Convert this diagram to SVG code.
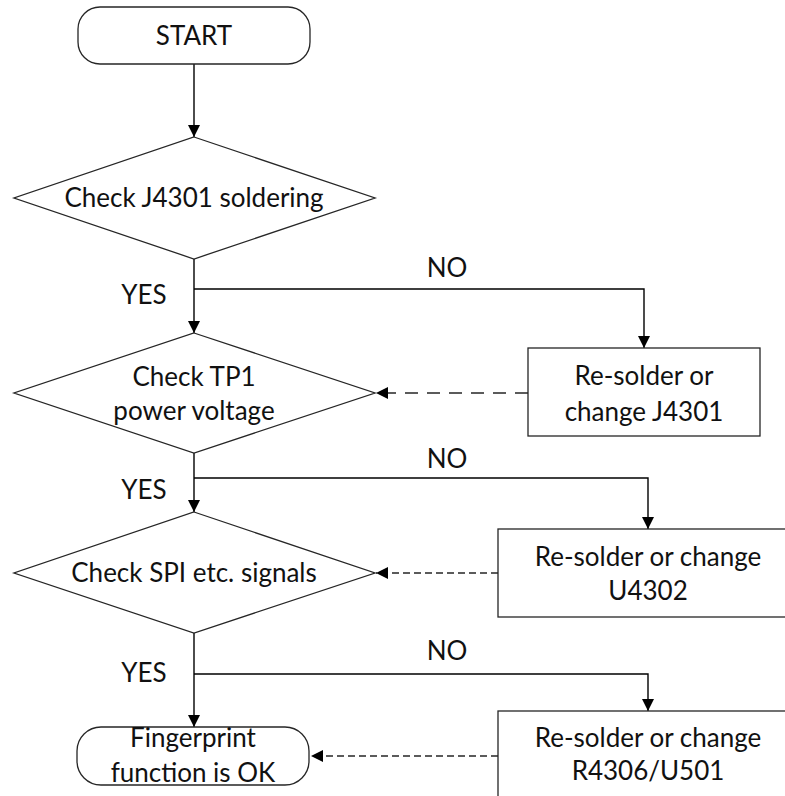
<svg xmlns="http://www.w3.org/2000/svg" width="785" height="796" viewBox="0 0 785 796">
  <style>
    .shape { fill: #ffffff; stroke: #262626; stroke-width: 1.3; }
    .wire { fill: none; stroke: #000000; stroke-width: 1.4; }
    .dash-long { fill: none; stroke: #262626; stroke-width: 1.4; stroke-dasharray: 13 9; }
    .dash-short { fill: none; stroke: #262626; stroke-width: 1.4; stroke-dasharray: 7 4; }
    text { font-family: Lato, "Liberation Sans", sans-serif; font-size: 26px; fill: #111111; text-anchor: middle; }
  </style>
  <defs>
    <marker id="arrow" viewBox="0 0 12 12" refX="12" refY="6" markerWidth="12" markerHeight="12" markerUnits="userSpaceOnUse" orient="auto">
      <path d="M0,0 L12,6 L0,12 Z" fill="#000000"/>
    </marker>
  </defs>

  <g id="connectors">
    <path class="wire" d="M194,64 V137" marker-end="url(#arrow)"/>
    <path class="wire" d="M194,259 V333" marker-end="url(#arrow)"/>
    <path class="wire" d="M194,289 H644 V348" marker-end="url(#arrow)"/>
    <path class="dash-long" d="M528,393 H376" marker-end="url(#arrow)"/>
    <path class="wire" d="M194,453 V512" marker-end="url(#arrow)"/>
    <path class="wire" d="M194,478 H648 V529" marker-end="url(#arrow)"/>
    <path class="dash-short" d="M498,573 H376" marker-end="url(#arrow)"/>
    <path class="wire" d="M194,633 V727" marker-end="url(#arrow)"/>
    <path class="wire" d="M194,674 H648 V711" marker-end="url(#arrow)"/>
    <path class="dash-short" d="M498,756 H311" marker-end="url(#arrow)"/>
    <text x="144" y="304">YES</text>
    <text x="447" y="277">NO</text>
    <text x="144" y="499">YES</text>
    <text x="447" y="468">NO</text>
    <text x="144" y="682">YES</text>
    <text x="447" y="660">NO</text>
  </g>

  <g id="start">
    <rect class="shape" x="78" y="7" width="232" height="57" rx="22" ry="22"/>
    <text x="194" y="45">START</text>
  </g>

  <g id="check-j4301">
    <polygon class="shape" points="194,137 375,198 194,259 14,198"/>
    <text x="194" y="207">Check J4301 soldering</text>
  </g>

  <g id="fix-j4301">
    <rect class="shape" x="528" y="348" width="232" height="88"/>
    <text x="644" y="385">Re-solder or</text>
    <text x="644" y="421">change J4301</text>
  </g>

  <g id="check-tp1">
    <polygon class="shape" points="194,333 375,393 194,453 14,393"/>
    <text x="194" y="386">Check TP1</text>
    <text x="194" y="420">power voltage</text>
  </g>

  <g id="fix-u4302">
    <rect class="shape" x="498" y="529" width="300" height="88"/>
    <text x="648" y="566">Re-solder or change</text>
    <text x="648" y="600">U4302</text>
  </g>

  <g id="check-spi">
    <polygon class="shape" points="194,512 375,573 194,633 14,573"/>
    <text x="194" y="582">Check SPI etc. signals</text>
  </g>

  <g id="fix-r4306">
    <rect class="shape" x="498" y="711" width="300" height="100"/>
    <text x="648" y="747">Re-solder or change</text>
    <text x="648" y="780">R4306/U501</text>
  </g>

  <g id="finish">
    <rect class="shape" x="77" y="727" width="232" height="58" rx="24" ry="24"/>
    <text x="193" y="747">Fingerprint</text>
    <text x="193" y="782">function is OK</text>
  </g>
</svg>
